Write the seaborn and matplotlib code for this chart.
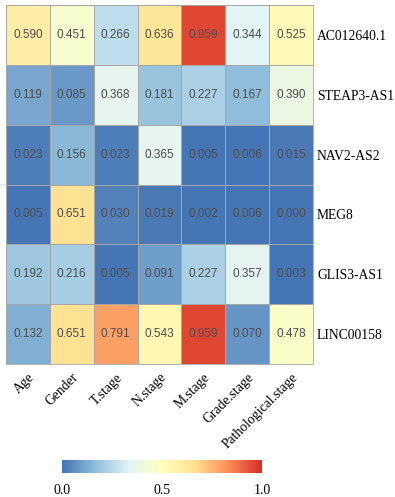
import numpy as np
import pandas as pd
import seaborn as sns
import matplotlib.pyplot as plt
from matplotlib.colors import LinearSegmentedColormap

# valores p por gen y variable clínica
genes = ['AC012640.1', 'STEAP3-AS1', 'NAV2-AS2', 'MEG8', 'GLIS3-AS1', 'LINC00158']
variables = ['Age', 'Gender', 'T.stage', 'N.stage', 'M.stage', 'Grade.stage', 'Pathological.stage']
ac012640 = [0.590, 0.451, 0.266, 0.636, 0.959, 0.344, 0.525]
steap3 = [0.119, 0.085, 0.368, 0.181, 0.227, 0.167, 0.390]
nav2 = [0.023, 0.156, 0.023, 0.365, 0.005, 0.006, 0.015]
meg8 = [0.005, 0.651, 0.030, 0.019, 0.002, 0.006, 0.000]
glis3 = [0.192, 0.216, 0.005, 0.091, 0.227, 0.357, 0.003]
linc00158 = [0.132, 0.651, 0.791, 0.543, 0.959, 0.070, 0.478]

df = pd.DataFrame([ac012640, steap3, nav2, meg8, glis3, linc00158], index=genes, columns=variables)

# paleta tipo pheatmap (RdYlBu invertida, 7 colores)
colores = ['#4575B4', '#91BFDB', '#E0F3F8', '#FFFFBF', '#FEE090', '#FC8D59', '#D73027']
cmap = LinearSegmentedColormap.from_list('rdylbu7', colores, N=100)

fig = plt.figure(figsize=(3.95, 4.97), dpi=100)
ax = fig.add_axes([0.0152, 0.2676, 0.777, 0.7223])
cax = fig.add_axes([0.157, 0.0483, 0.506, 0.026])

sns.heatmap(df, ax=ax, cmap=cmap, vmin=0, vmax=1, annot=True, fmt='.3f',
            annot_kws={'fontsize': 8.5, 'color': '#4d4d4d', 'family': 'Liberation Sans'},
            linewidths=0.6, linecolor='#a6a6a6',
            cbar_ax=cax, cbar_kws={'orientation': 'horizontal', 'ticks': [0, 0.5, 1.0]})

ax.yaxis.tick_right()
ax.set_yticklabels(genes, rotation=0, fontsize=9.8, family='Liberation Serif')
ax.set_xticklabels(variables, rotation=45, ha='right', va='top', rotation_mode='anchor',
                   fontsize=9.8, family='Liberation Serif')
ax.tick_params(axis='y', length=0, pad=3)
ax.tick_params(axis='x', length=0, pad=5)
ax.set_xlabel('')
ax.set_ylabel('')
for s in ax.spines.values():
    s.set_visible(True)
    s.set_color('#a6a6a6')
    s.set_linewidth(0.6)

cbar = ax.collections[0].colorbar
cbar.outline.set_visible(False)
cax.tick_params(length=0, pad=8)
cax.set_xticklabels(['0.0', '0.5', '1.0'], fontsize=10, family='Liberation Serif')

fig.savefig('out.png', dpi=100)
